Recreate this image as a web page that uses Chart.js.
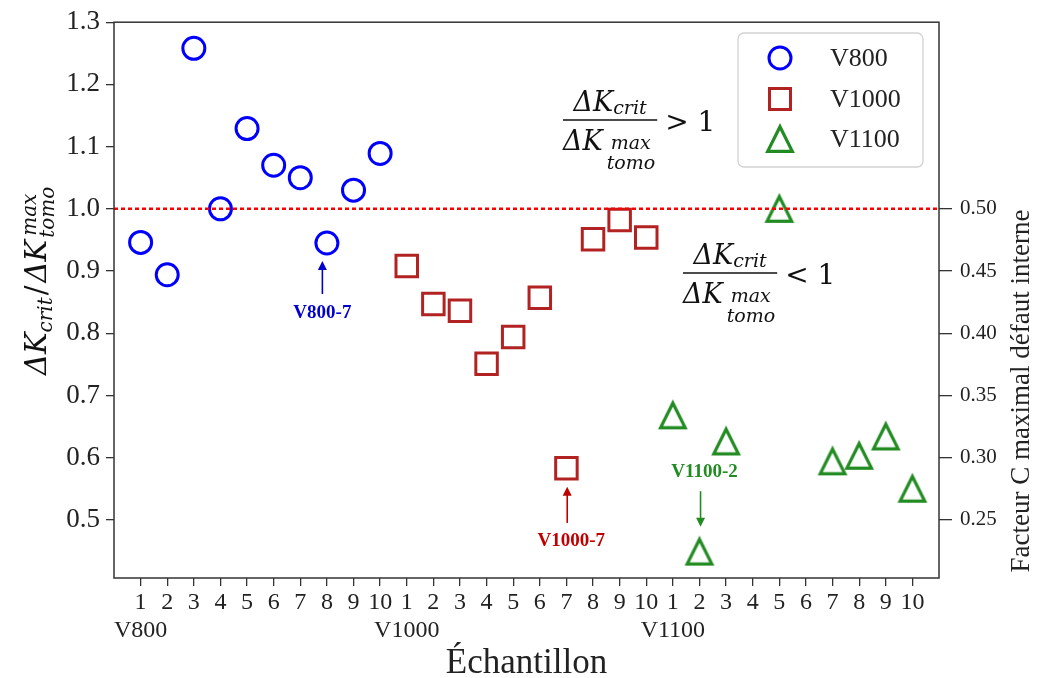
<!DOCTYPE html>
<html>
<head>
<meta charset="utf-8">
<script src="https://cdn.jsdelivr.net/npm/chart.js@4.4.1/dist/chart.umd.min.js"></script>
<style>
html, body { margin: 0; padding: 0; background: #fff; }
</style>
</head>
<body>
<canvas id="chart" width="1040" height="678"></canvas>
<script>
// sample numbers inside each group, and the groups
const sampleNums = ['1', '2', '3', '4', '5', '6', '7', '8', '9', '10'];
const groups = ['V800', 'V1000', 'V1100'];

// dK_crit / dK_max_tomo per sample (null = no measure)
const v800 = [0.946, 0.894, 1.258, 1.000, 1.129, 1.070, 1.050, 0.945, 1.030, 1.089];
const v1000 = [0.908, 0.847, 0.836, 0.751, 0.794, 0.857, 0.583, 0.951, 0.982, 0.954];
const v1100 = [0.668, 0.449, 0.626, null, 1.000, null, 0.594, 0.603, 0.634, 0.550];

const leftTicks = [0.5, 0.6, 0.7, 0.8, 0.9, 1.0, 1.1, 1.2, 1.3];
const rightTicks = [0.25, 0.30, 0.35, 0.40, 0.45, 0.50];
const refLevel = 1.0;

const xMin = -1, xMax = 30;
const yMin = 0.4065, yMax = 1.3;

const blue = '#0000ff', red = '#b22222', green = '#228b22';
const serif = '"Liberation Serif", "Times New Roman", serif';
const mathFont = '"DejaVu Serif", serif';

const toPoints = (vals, g) => vals
    .map((v, i) => v === null ? null : { x: g * 10 + i, y: v })
    .filter(p => p !== null);

// matplotlib style '^' marker (width == height)
function triangleMarker(color) {
    const c = document.createElement('canvas');
    c.width = 36; c.height = 36;
    const g = c.getContext('2d');
    const a = 12.3;
    g.strokeStyle = color;
    g.lineWidth = 3.2;
    g.lineJoin = 'miter';
    g.beginPath();
    g.moveTo(18, 18 - a);
    g.lineTo(18 + a, 18 + a);
    g.lineTo(18 - a, 18 + a);
    g.closePath();
    g.stroke();
    return c;
}
const triImg = triangleMarker(green);

// labelled arrows, in data units
const notes = [
    { text: 'V800-7', color: '#0000cd', x: 6.83, y: 0.833, ax: 6.83, from: 0.863, to: 0.916 },
    { text: 'V1000-7', color: '#c00000', x: 16.18, y: 0.466, ax: 16.03, from: 0.495, to: 0.553 },
    { text: 'V1100-2', color: green, x: 21.19, y: 0.577, ax: 21.04, from: 0.546, to: 0.489 }
];

function drawArrow(ctx, x, y0, y1, color) {
    const dir = y1 > y0 ? 1 : -1;
    ctx.strokeStyle = color;
    ctx.fillStyle = color;
    ctx.lineWidth = 1.6;
    ctx.beginPath();
    ctx.moveTo(x, y0);
    ctx.lineTo(x, y1 - dir * 8);
    ctx.stroke();
    ctx.beginPath();
    ctx.moveTo(x, y1);
    ctx.lineTo(x - 4.5, y1 - dir * 9);
    ctx.lineTo(x + 4.5, y1 - dir * 9);
    ctx.closePath();
    ctx.fill();
}

// dK_crit / dK^max_tomo fraction followed by a relation
function drawRatio(ctx, barX, barY, rel) {
    const big = 'italic 27px ' + mathFont;
    const small = 'italic 19px ' + mathFont;
    ctx.fillStyle = '#111';
    ctx.textAlign = 'left';
    ctx.textBaseline = 'alphabetic';
    ctx.font = big;
    const dk = ctx.measureText('ΔK').width;
    ctx.font = small;
    const wCrit = ctx.measureText('crit').width;
    const wMax = ctx.measureText('max').width;
    const wTomo = ctx.measureText('tomo').width;
    const denW = dk + 4 + Math.max(wMax + 4, wTomo);
    const barW = denW + 2;
    const numX = barX + (barW - (dk + wCrit)) / 2;
    ctx.font = big;
    ctx.fillText('ΔK', numX, barY - 9);
    ctx.fillText('ΔK', barX, barY + 30);
    ctx.font = small;
    ctx.fillText('crit', numX + dk, barY - 6);
    ctx.fillText('max', barX + dk + 8, barY + 29);
    ctx.fillText('tomo', barX + dk + 4, barY + 49);
    ctx.strokeStyle = '#111';
    ctx.lineWidth = 1.3;
    ctx.beginPath();
    ctx.moveTo(barX, barY);
    ctx.lineTo(barX + barW, barY);
    ctx.stroke();
    ctx.font = '28px ' + mathFont;
    ctx.fillText(rel, barX + barW + 8, barY + 11);
}

const decor = {
    id: 'decor',
    afterDatasetsDraw(chart) {
        const ctx = chart.ctx;
        const a = chart.chartArea;
        const xs = chart.scales.x, ys = chart.scales.y;
        ctx.save();

        // frame
        ctx.strokeStyle = '#333';
        ctx.lineWidth = 1.5;
        ctx.strokeRect(a.left, a.top, a.right - a.left, a.bottom - a.top);

        // arrows + labels
        notes.forEach(n => {
            const px = xs.getPixelForValue(n.ax);
            drawArrow(ctx, px, ys.getPixelForValue(n.from), ys.getPixelForValue(n.to), n.color);
            ctx.fillStyle = n.color;
            ctx.font = 'bold 19px ' + serif;
            ctx.textAlign = 'center';
            ctx.textBaseline = 'middle';
            ctx.fillText(n.text, xs.getPixelForValue(n.x), ys.getPixelForValue(n.y));
        });

        // ratio texts
        drawRatio(ctx, 563, 120, '> 1');
        drawRatio(ctx, 683, 273, '< 1');

        // legend box
        const lx = 738, ly = 33, lw = 185, lh = 134;
        ctx.fillStyle = 'rgba(255,255,255,0.85)';
        ctx.strokeStyle = '#d2d2d2';
        ctx.lineWidth = 1.3;
        ctx.beginPath();
        ctx.roundRect(lx, ly, lw, lh, 6);
        ctx.fill();
        ctx.stroke();
        const rows = [58, 99, 139];
        chart.data.datasets.slice(1).forEach((ds, i) => {
            const cy = rows[i], cx = 780;
            ctx.lineWidth = 3;
            ctx.strokeStyle = ds.borderColor;
            if (i === 0) {
                ctx.beginPath();
                ctx.arc(cx, cy, 11, 0, Math.PI * 2);
                ctx.stroke();
            } else if (i === 1) {
                ctx.strokeRect(cx - 10.5, cy - 10.5, 21, 21);
            } else {
                ctx.drawImage(triImg, cx - 18, cy - 18);
            }
            ctx.fillStyle = '#222';
            ctx.font = '26px ' + serif;
            ctx.textAlign = 'left';
            ctx.textBaseline = 'middle';
            ctx.fillText(ds.label, 830, cy + 1);
        });

        // axis titles
        ctx.fillStyle = '#222';
        ctx.font = '35px ' + serif;
        ctx.textAlign = 'center';
        ctx.textBaseline = 'alphabetic';
        ctx.fillText('Échantillon', (a.left + a.right) / 2, 673);

        ctx.save();
        ctx.translate(1022, 391);
        ctx.rotate(-Math.PI / 2);
        ctx.font = '27px ' + serif;
        ctx.textBaseline = 'middle';
        ctx.fillText('Facteur C maximal défaut interne', 0, 0);
        ctx.restore();

        // left title, rotated math
        ctx.save();
        ctx.translate(46, 375);
        ctx.rotate(-Math.PI / 2);
        ctx.fillStyle = '#111';
        ctx.textAlign = 'left';
        const big = 'italic 29px ' + mathFont, small = 'italic 20px ' + mathFont;
        let u = 0;
        ctx.font = big; ctx.fillText('ΔK', u, 0); u += ctx.measureText('ΔK').width;
        ctx.font = small; ctx.fillText('crit', u, 6); u += ctx.measureText('crit').width + 2;
        ctx.font = '29px ' + mathFont; ctx.fillText('/', u, 0); u += ctx.measureText('/').width + 3;
        ctx.font = big; ctx.fillText('ΔK', u, 0); u += ctx.measureText('ΔK').width + 2;
        ctx.font = small; ctx.fillText('max', u + 2, -10); ctx.fillText('tomo', u, 8);
        ctx.restore();

        ctx.restore();
    }
};

new Chart(document.getElementById('chart'), {
    type: 'scatter',
    data: {
        datasets: [
            {
                type: 'line',
                label: 'ref',
                data: [{ x: xMin, y: refLevel }, { x: xMax, y: refLevel }],
                borderColor: '#ff0000',
                borderWidth: 2.5,
                borderDash: [4, 3],
                pointRadius: 0
            },
            {
                label: groups[0],
                data: toPoints(v800, 0),
                pointStyle: 'circle',
                pointRadius: 11,
                borderColor: blue,
                pointBorderWidth: 3,
                backgroundColor: 'transparent'
            },
            {
                label: groups[1],
                data: toPoints(v1000, 1),
                pointStyle: 'rect',
                pointRadius: 15.2,
                borderColor: red,
                pointBorderWidth: 3,
                backgroundColor: 'transparent'
            },
            {
                label: groups[2],
                data: toPoints(v1100, 2),
                pointStyle: triImg,
                pointRadius: 12,
                borderColor: green,
                pointBorderWidth: 3,
                backgroundColor: 'transparent'
            }
        ]
    },
    options: {
        responsive: false,
        animation: false,
        layout: { padding: { top: 21, left: 0, right: 0, bottom: 0 } },
        plugins: { legend: { display: false }, tooltip: { enabled: false } },
        scales: {
            x: {
                type: 'linear',
                min: xMin,
                max: xMax,
                afterBuildTicks: axis => { axis.ticks = sampleNums.flatMap((_, i) => groups.map((__, g) => ({ value: g * 10 + i }))).sort((p, q) => p.value - q.value); },
                afterFit: s => { s.height = 100; },
                grid: { drawOnChartArea: false, drawTicks: true, tickLength: 8, color: '#333', lineWidth: 1.3 },
                border: { display: false },
                ticks: {
                    autoSkip: false,
                    maxRotation: 0,
                    padding: 2,
                    color: '#222',
                    font: { family: serif, size: 24, lineHeight: 1.2 },
                    callback: v => {
                        const num = sampleNums[v % 10];
                        return v % 10 === 0 ? [num, groups[v / 10]] : num;
                    }
                }
            },
            y: {
                position: 'left',
                min: yMin,
                max: yMax,
                afterBuildTicks: axis => { axis.ticks = leftTicks.map(v => ({ value: v })); },
                afterFit: s => { s.width = 114; },
                grid: { drawOnChartArea: false, drawTicks: true, tickLength: 8, color: '#333', lineWidth: 1.3 },
                border: { display: false },
                ticks: {
                    padding: 6,
                    color: '#222',
                    font: { family: serif, size: 27 },
                    callback: v => v.toFixed(1)
                }
            },
            y2: {
                position: 'right',
                min: yMin / 2,
                max: yMax / 2,
                afterBuildTicks: axis => { axis.ticks = rightTicks.map(v => ({ value: v })); },
                afterFit: s => { s.width = 101; },
                grid: { drawOnChartArea: false, drawTicks: true, tickLength: 13, color: '#333', lineWidth: 1.3 },
                border: { display: false },
                ticks: {
                    padding: 8,
                    color: '#222',
                    font: { family: serif, size: 21 },
                    callback: v => v.toFixed(2)
                }
            }
        }
    },
    plugins: [decor]
});
</script>
</body>
</html>
